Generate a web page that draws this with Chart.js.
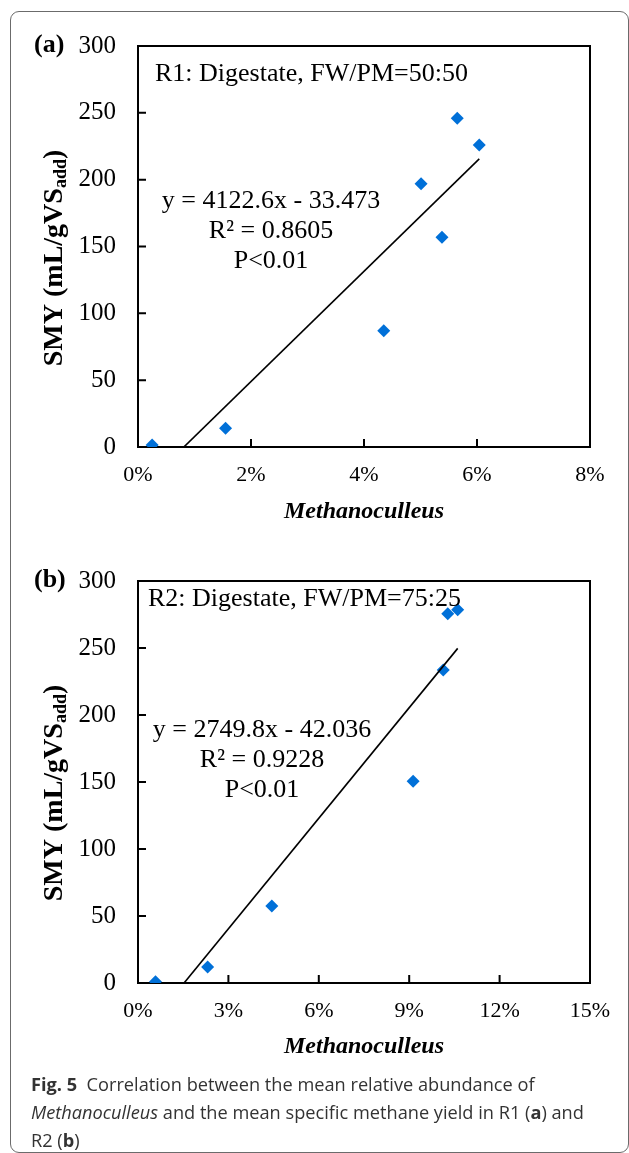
<!DOCTYPE html>
<html>
<head>
<meta charset="utf-8">
<script src="https://cdn.jsdelivr.net/npm/chart.js@4.4.1/dist/chart.umd.min.js"></script>
<style>
    html, body { margin: 0; padding: 0; background: #fff; }
    body { width: 629px; height: 1153px; position: relative; overflow: hidden; }
    .frame {
        position: absolute; left: 10px; top: 11px; width: 619px; height: 1142px;
        box-sizing: border-box; border: 1px solid #6b6b6b; border-radius: 9px;
    }
    .plot { position: absolute; left: 0; width: 629px; height: 540px; }
    #caption {
        position: absolute; left: 31px; top: 1070px; width: 595px;
        font-family: "Open Sans"; font-size: 18.2px; line-height: 28px; color: #333;
        white-space: nowrap;
    }
</style>
</head>
<body>
<div class="frame"></div>
<div class="plot" style="top:0"><canvas id="chartA" width="629" height="540"></canvas></div>
<div class="plot" style="top:535px"><canvas id="chartB" width="629" height="540"></canvas></div>
<div id="caption"><b>Fig. 5</b>&nbsp; Correlation between the mean relative abundance of<br><i>Methanoculleus</i> and the mean specific methane yield in R1 (<b>a</b>) and<br>R2 (<b>b</b>)</div>

<script>
// values (x in %, y in mL/gVS)
const r1Abundance = [0.25, 1.55, 4.35, 5.01, 5.38, 5.65, 6.04];
const r1Yield = [1.5, 14, 87, 197, 157, 246, 226];
const r2Abundance = [0.58, 2.31, 4.44, 9.13, 10.13, 10.28, 10.61];
const r2Yield = [1, 12, 57.5, 150.5, 233.5, 275.5, 278.5];

// printed regression lines: slope (per fraction), intercept
const r1Trend = [4122.6, -33.473];
const r2Trend = [2749.8, -42.036];

const r1XTicks = [0, 2, 4, 6, 8];
const r2XTicks = [0, 3, 6, 9, 12, 15];
const yTicks = [0, 50, 100, 150, 200, 250, 300];

const panelLabels = ['(a)', '(b)'];
const panelTitles = ['R1: Digestate, FW/PM=50:50', 'R2: Digestate, FW/PM=75:25'];
const r1Stats = ['y = 4122.6x - 33.473', 'R² = 0.8605', 'P<0.01'];
const r2Stats = ['y = 2749.8x - 42.036', 'R² = 0.9228', 'P<0.01'];

const SERIF = '"Liberation Serif", "Times New Roman", serif';

function panelDecor(label, title, titleX, titleY, stats, statsX, statsY) {
    return {
        id: 'panelDecor',
        beforeDatasetsDraw(chart) {
            const { ctx, chartArea: a, scales } = chart;
            ctx.save();
            ctx.strokeStyle = '#000';
            ctx.lineWidth = 2;
            ctx.strokeRect(a.left, a.top, a.right - a.left, a.bottom - a.top);
            // tick marks point inwards
            ctx.beginPath();
            scales.x.ticks.forEach(t => {
                if (t.value <= scales.x.min || t.value >= scales.x.max) return;
                const px = scales.x.getPixelForValue(t.value);
                ctx.moveTo(px, a.bottom);
                ctx.lineTo(px, a.bottom - 8);
            });
            scales.y.ticks.forEach(t => {
                if (t.value <= scales.y.min || t.value >= scales.y.max) return;
                const py = scales.y.getPixelForValue(t.value);
                ctx.moveTo(a.left, py);
                ctx.lineTo(a.left + 8, py);
            });
            ctx.stroke();
            ctx.restore();
        },
        afterDraw(chart) {
            const ctx = chart.ctx;
            ctx.save();
            ctx.fillStyle = '#000';
            ctx.textBaseline = 'alphabetic';

            ctx.font = 'bold 26px ' + SERIF;
            ctx.textAlign = 'left';
            ctx.fillText(label, 34, 52);

            ctx.font = '26px ' + SERIF;
            ctx.fillText(title, titleX, titleY);

            ctx.textAlign = 'center';
            stats.forEach((s, i) => ctx.fillText(s, statsX, statsY + i * 30));

            // y axis title with subscript
            ctx.translate(62, 258);
            ctx.rotate(-Math.PI / 2);
            ctx.textAlign = 'left';
            const mainFont = 'bold 28px ' + SERIF;
            const subFont = 'bold 18px ' + SERIF;
            ctx.font = mainFont;
            const w1 = ctx.measureText('SMY (mL/gVS').width;
            const w3 = ctx.measureText(')').width;
            ctx.font = subFont;
            const w2 = ctx.measureText('add').width;
            let x0 = -(w1 + w2 + w3) / 2;
            ctx.font = mainFont;
            ctx.fillText('SMY (mL/gVS', x0, 0);
            ctx.font = subFont;
            ctx.fillText('add', x0 + w1, 4);
            ctx.font = mainFont;
            ctx.fillText(')', x0 + w1 + w2, 0);
            ctx.restore();
        }
    };
}

function makeChart(id, xs, ys, trend, xTicks, xAxisHeight, decor) {
    const xMin = Math.min(...xs);
    const xMax = Math.max(...xs);
    const points = xs.map((x, i) => ({ x: x, y: ys[i] }));
    const fit = [xMin, xMax].map(x => ({ x: x, y: trend[0] * x / 100 + trend[1] }));

    return new Chart(document.getElementById(id), {
        type: 'scatter',
        data: {
            datasets: [{
                data: points,
                pointStyle: 'rectRot',
                pointRadius: 6.5,
                backgroundColor: '#0070d8',
                borderColor: '#0070d8',
                borderWidth: 0,
                order: 1
            }, {
                type: 'line',
                data: fit,
                borderColor: '#000',
                borderWidth: 1.6,
                pointRadius: 0,
                fill: false,
                clip: 0,
                order: 0
            }]
        },
        options: {
            responsive: false,
            animation: false,
            events: [],
            layout: { padding: { left: 0, right: 39, top: 46, bottom: 0 } },
            plugins: { legend: { display: false }, tooltip: { enabled: false } },
            scales: {
                x: {
                    type: 'linear',
                    min: xTicks[0],
                    max: xTicks[xTicks.length - 1],
                    afterBuildTicks: s => { s.ticks = xTicks.map(v => ({ value: v })); },
                    afterFit: s => { s.height = xAxisHeight; },
                    grid: { display: false, drawTicks: false },
                    border: { display: false },
                    ticks: {
                        callback: v => v + '%',
                        font: { family: SERIF, size: 22 },
                        color: '#000',
                        padding: 15,
                        maxRotation: 0,
                        autoSkip: false
                    },
                    title: {
                        display: true,
                        text: 'Methanoculleus',
                        font: { family: SERIF, size: 24, style: 'italic', weight: 'bold' },
                        color: '#000',
                        padding: { top: 0, bottom: 14 }
                    }
                },
                y: {
                    min: yTicks[0],
                    max: yTicks[yTicks.length - 1],
                    afterBuildTicks: s => { s.ticks = yTicks.map(v => ({ value: v })); },
                    afterFit: s => { s.width = 138; },
                    grid: { display: false, drawTicks: false },
                    border: { display: false },
                    ticks: {
                        font: { family: SERIF, size: 25 },
                        color: '#000',
                        padding: 22
                    }
                }
            }
        },
        plugins: [decor]
    });
}

makeChart('chartA', r1Abundance, r1Yield, r1Trend, r1XTicks, 93,
    panelDecor(panelLabels[0], panelTitles[0], 155, 81, r1Stats, 271, 208));
makeChart('chartB', r2Abundance, r2Yield, r2Trend, r2XTicks, 92,
    panelDecor(panelLabels[1], panelTitles[1], 148, 71, r2Stats, 262, 202));
</script>
</body>
</html>
